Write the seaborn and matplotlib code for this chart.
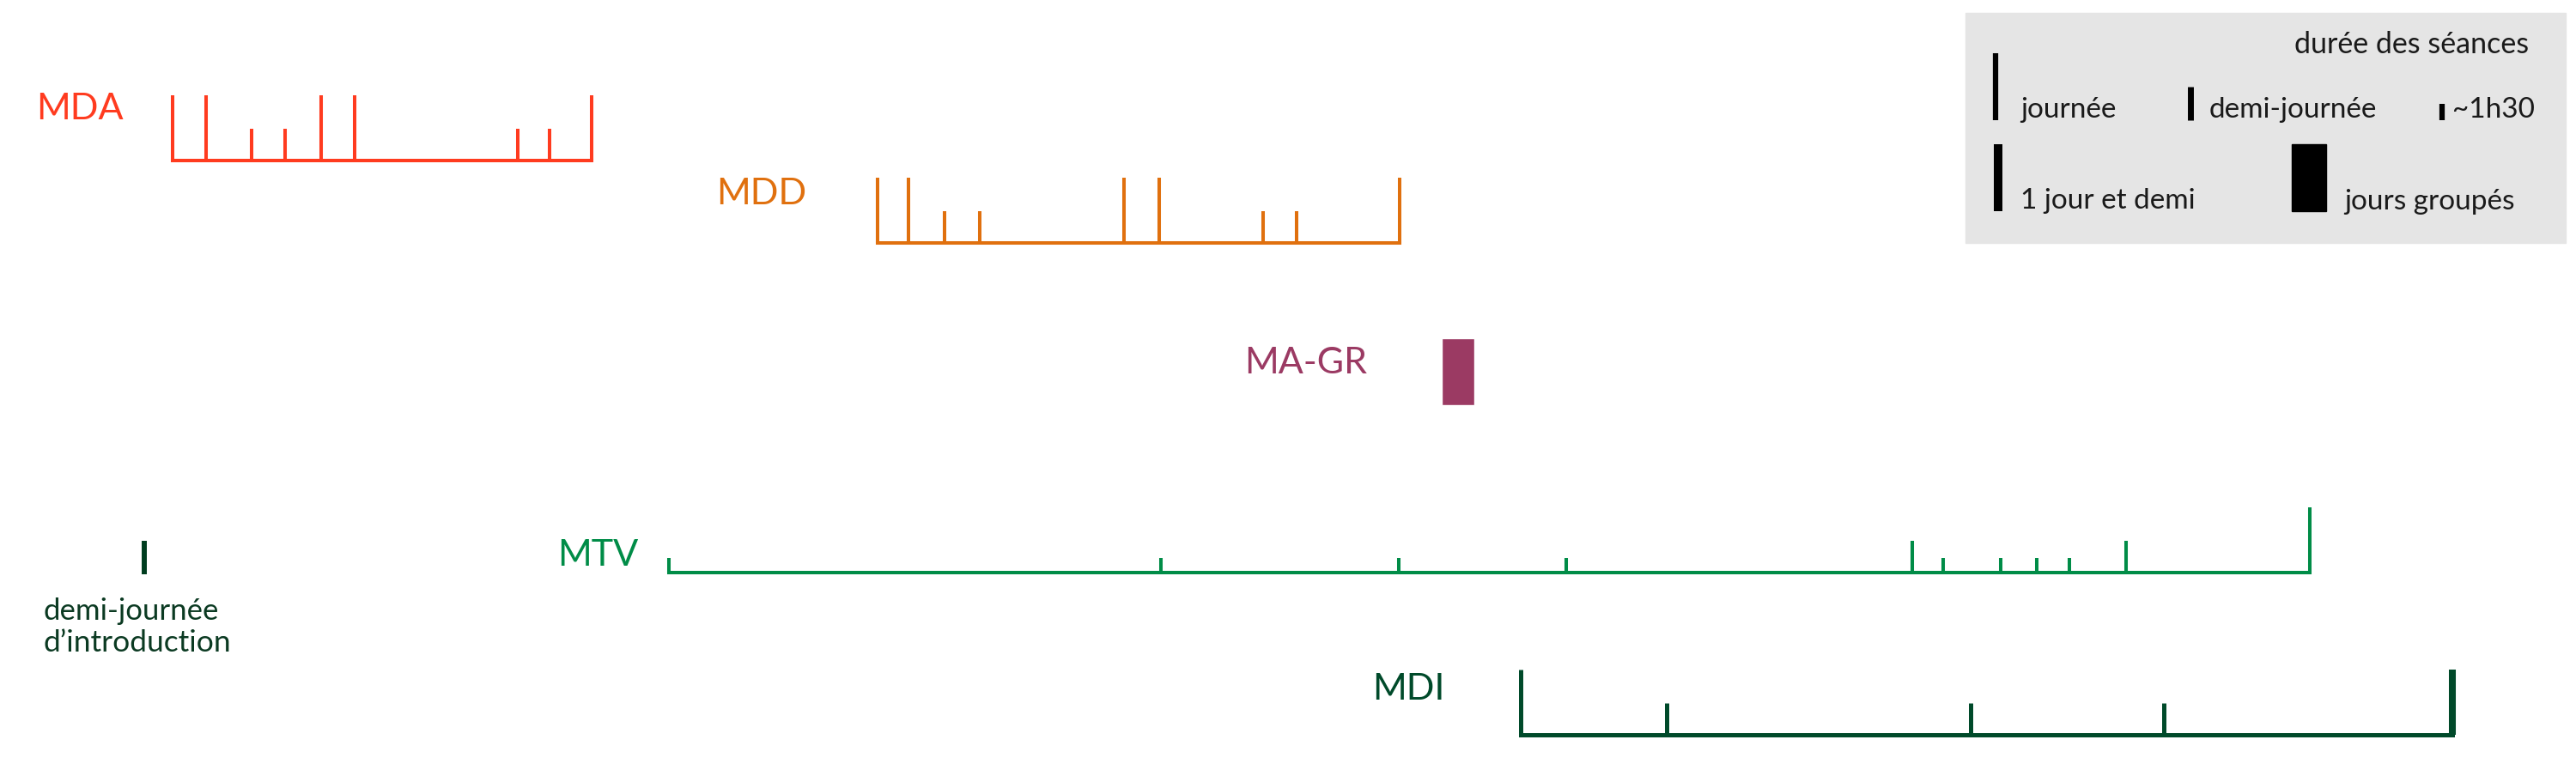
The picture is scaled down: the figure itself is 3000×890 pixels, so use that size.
"""Timeline of training sessions per module (MDA, MDD, MA-GR, MTV, MDI)"""
import pandas as pd
import matplotlib
matplotlib.use("Agg")
import matplotlib.pyplot as plt
from matplotlib.patches import Rectangle
import seaborn as sns

# session positions on the timeline and their duration code
# j = journée, d = demi-journée, h = ~1h30, j15 = 1 jour et demi
MDA_x = [201, 240, 293, 332, 374, 413, 603, 640, 689]
MDA_dur = ["j", "j", "d", "d", "j", "j", "d", "d", "j"]
MDD_x = [1022, 1058, 1100, 1141, 1309, 1350, 1471, 1510, 1630]
MDD_dur = ["j", "j", "d", "d", "j", "j", "d", "d", "j"]
MTV_x = [779, 1352, 1629, 1824, 2227, 2263, 2330, 2372, 2410, 2476, 2690]
MTV_dur = ["h", "h", "h", "h", "d", "h", "h", "h", "h", "d", "j"]
MDI_x = [1771, 1941, 2295, 2520, 2856]
MDI_dur = ["j", "d", "d", "d", "j15"]
MAGR_start, MAGR_end = 1679, 1717          # jours groupés
INTRO_x, INTRO_dur = 168, "d"              # demi-journée d'introduction

modules = ["MDA", "MDD", "MTV", "MDI"]
colors = {"MDA": "#ff3b1f", "MDD": "#e0700e", "MA-GR": "#9b3a63",
          "MTV": "#008c47", "MDI": "#004a2a", "intro": "#003d1f"}
row_y = {"MDA": 187, "MDD": 283, "MA-GR": 472, "MTV": 667, "MDI": 856}
heights = {"j": 76, "d": 37, "h": 17, "j15": 76}

sessions = pd.concat([
    pd.DataFrame({"module": "MDA", "x": MDA_x, "dur": MDA_dur}),
    pd.DataFrame({"module": "MDD", "x": MDD_x, "dur": MDD_dur}),
    pd.DataFrame({"module": "MTV", "x": MTV_x, "dur": MTV_dur}),
    pd.DataFrame({"module": "MDI", "x": MDI_x, "dur": MDI_dur}),
], ignore_index=True)
sessions["y0"] = sessions["module"].map(row_y)
sessions["h"] = sessions["dur"].map(heights)

sns.set_theme(style="white")
plt.rcParams["font.family"] = ["Lato", "DejaVu Sans"]

fig = plt.figure(figsize=(30, 8.9), dpi=100)
ax = fig.add_axes([0, 0, 1, 1])
ax.set_xlim(0, 3000)
ax.set_ylim(890, 0)
ax.axis("off")

# baselines of each module
for mod in modules:
    sub = sessions[sessions["module"] == mod]
    base = pd.DataFrame({"x": [sub["x"].min(), sub["x"].max()],
                         "y": [row_y[mod]] * 2})
    lw = 3.6 if mod == "MDI" else 2.9
    sns.lineplot(data=base, x="x", y="y", color=colors[mod], lw=lw,
                 ax=ax, solid_capstyle="projecting", legend=False)
    for _, r in sub.iterrows():
        tick_lw = 5.8 if r["dur"] == "j15" else lw
        ax.vlines(r["x"], r["y0"] - r["h"], r["y0"], color=colors[mod],
                  lw=tick_lw, capstyle="butt")

# MA-GR grouped days
ax.bar(MAGR_start, -78, width=MAGR_end - MAGR_start, bottom=row_y["MA-GR"],
       align="edge", color=colors["MA-GR"])

# intro half day
txt = "#0b3a22"
ax.vlines(INTRO_x, 669 - heights[INTRO_dur] - 2, 669, color=colors["intro"], lw=4.3)
ax.text(50, 722, "demi-journée", fontsize=25, color=txt)
ax.text(50, 759, "d’introduction", fontsize=25.5, color=txt)

# module labels
label_pos = {"MDA": (42, 139), "MDD": (834, 238), "MA-GR": (1449, 435),
             "MTV": (649, 659), "MDI": (1598, 815)}
for mod, (lx, ly) in label_pos.items():
    ax.text(lx, ly, mod, fontsize=31, color=colors[mod], va="baseline")

# legend box
ink = "#1a1a1a"
ax.add_patch(Rectangle((2289, 15), 699, 268, color="#e5e5e5", zorder=0))
ax.text(2945, 62, "durée des séances", fontsize=24.5, ha="right", color=ink)
ax.vlines(2324, 62, 140, color="black", lw=4.5)
ax.text(2353, 137, "journée", fontsize=24, color=ink)
ax.vlines(2551, 101, 140, color="black", lw=5.0)
ax.text(2573, 137, "demi-journée", fontsize=24, color=ink)
ax.vlines(2844, 121, 140, color="black", lw=4.5)
ax.text(2856, 137, "~1h30", fontsize=24, color=ink)
ax.vlines(2327, 168, 246, color="black", lw=7.2)
ax.text(2353, 243, "1 jour et demi", fontsize=24, color=ink)
ax.add_patch(Rectangle((2669, 168), 40, 78, color="black"))
ax.text(2730, 244, "jours groupés", fontsize=24, color=ink)

fig.savefig("out.png", dpi=100, facecolor="white")
plt.close(fig)
